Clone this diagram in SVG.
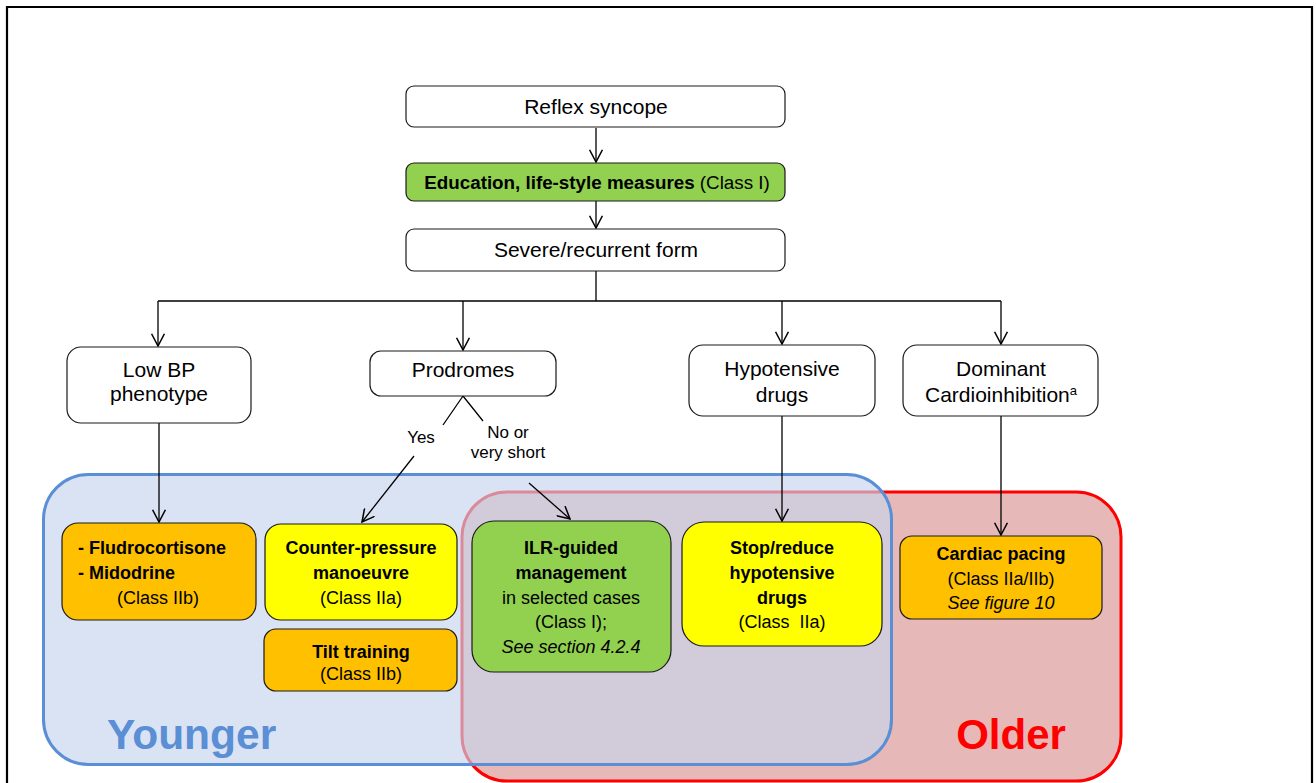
<svg xmlns="http://www.w3.org/2000/svg" width="1316" height="783" viewBox="0 0 1316 783">
  <style>
    text { font-family: "Liberation Sans", Arial, sans-serif; fill: #000; text-anchor: middle; }
    .top { font-size: 21px; }
    .lbl { font-size: 17px; }
    .b { font-weight: bold; }
    .t { font-size: 18px; }
    .i { font-style: italic; }
    .node { stroke: #1a1a1a; stroke-width: 1.2; }
    .white { fill: #ffffff; }
    .green { fill: #92D050; }
    .yellow { fill: #FFFF00; }
    .orange { fill: #FFC000; }
    .conn { stroke: #000; stroke-width: 1.3; fill: none; }
    .arrow { marker-end: url(#head); }
  </style>
  <defs>
    <marker id="head" markerUnits="userSpaceOnUse" markerWidth="14" markerHeight="14" viewBox="0 0 11 12" refX="10.5" refY="6" orient="auto">
      <path d="M0,0.5 L10.5,6 L0,11.5" fill="none" stroke="#000" stroke-width="1.3"/>
    </marker>
  </defs>

  <rect width="1316" height="783" fill="#ffffff"/>
  <!-- outer frame, open at the bottom edge -->
  <path d="M7 790 V7 H1312 V790" fill="none" stroke="#000" stroke-width="2.2"/>

  <!-- age groups -->
  <g id="group-older">
    <rect x="462" y="492" width="659" height="289" rx="45" fill="#E6B9B8" stroke="#FF0000" stroke-width="3"/>
    <text x="1011" y="749" font-size="42" font-weight="bold" style="fill:#FF0000">Older</text>
  </g>
  <g id="group-younger">
    <rect x="43.5" y="474.5" width="848" height="290" rx="45" fill="#C6D4ED" fill-opacity="0.65" stroke="#5A8ED5" stroke-width="3"/>
    <text x="107" y="749" font-size="42.5" font-weight="bold" style="fill:#5A8ED5;text-anchor:start">Younger</text>
  </g>

  <!-- connectors -->
  <g id="connectors">
    <path class="conn arrow" d="M596 128 V162"/>
    <path class="conn arrow" d="M596 201 V228"/>
    <path class="conn" d="M596 271 V301 M158 301 H1001"/>
    <path class="conn arrow" d="M158 301 V346"/>
    <path class="conn arrow" d="M463 301 V350"/>
    <path class="conn arrow" d="M782 301 V344"/>
    <path class="conn arrow" d="M1001 301 V344"/>
    <path class="conn" d="M463 396 L443 425 M463 396 L483 421"/>
    <path class="conn arrow" d="M414 456 L362 522"/>
    <path class="conn arrow" d="M529 483 L570 519"/>
    <path class="conn arrow" d="M159 423 V522"/>
    <path class="conn arrow" d="M782 416 V521"/>
    <path class="conn arrow" d="M1001 416 V535"/>
    <text class="lbl" x="421" y="443">Yes</text>
    <text class="lbl" x="508" y="438">No or</text>
    <text class="lbl" x="508" y="458">very short</text>
  </g>

  <g id="reflex-syncope">
    <rect class="node white" x="406" y="86" width="379" height="41" rx="8"/>
    <text class="top" x="596" y="114">Reflex syncope</text>
  </g>
  <g id="education">
    <rect class="node green" x="406" y="163" width="379" height="38" rx="8"/>
    <text x="597" y="189" font-size="18.8"><tspan class="b">Education, life-style measures</tspan> (Class I)</text>
  </g>
  <g id="severe-recurrent">
    <rect class="node white" x="406" y="229" width="379" height="42" rx="8"/>
    <text class="top" x="596" y="257">Severe/recurrent form</text>
  </g>

  <g id="low-bp">
    <rect class="node white" x="67" y="347" width="184" height="76" rx="14"/>
    <text class="top" x="159" y="377">Low BP</text>
    <text class="top" x="159" y="401">phenotype</text>
  </g>
  <g id="prodromes">
    <rect class="node white" x="370" y="351" width="186" height="45" rx="11"/>
    <text class="top" x="463" y="377">Prodromes</text>
  </g>
  <g id="hypotensive-drugs">
    <rect class="node white" x="689" y="345" width="186" height="71" rx="14"/>
    <text class="top" x="782" y="376">Hypotensive</text>
    <text class="top" x="782" y="402">drugs</text>
  </g>
  <g id="cardioinhibition">
    <rect class="node white" x="903" y="345" width="195" height="71" rx="14"/>
    <text class="top" x="1001" y="376">Dominant</text>
    <text class="top" x="1001" y="402">Cardioinhibition<tspan font-size="13" dy="-7">a</tspan></text>
  </g>

  <g id="fludrocortisone">
    <rect class="node orange" x="62" y="523" width="194" height="97" rx="16"/>
    <text class="t b" x="78" y="554" style="text-anchor:start">- Fludrocortisone</text>
    <text class="t b" x="78" y="579" style="text-anchor:start">- Midodrine</text>
    <text class="t" x="158" y="604">(Class IIb)</text>
  </g>
  <g id="counter-pressure">
    <rect class="node yellow" x="265" y="524" width="192" height="96" rx="16"/>
    <text class="t b" x="361" y="554">Counter-pressure</text>
    <text class="t b" x="361" y="579">manoeuvre</text>
    <text class="t" x="361" y="604">(Class IIa)</text>
  </g>
  <g id="tilt-training">
    <rect class="node orange" x="264" y="629" width="193" height="62" rx="12"/>
    <text class="t b" x="361" y="658">Tilt training</text>
    <text class="t" x="361" y="680">(Class IIb)</text>
  </g>
  <g id="ilr-guided">
    <rect class="node green" x="472" y="521" width="199" height="151" rx="22"/>
    <text class="t b" x="571" y="554">ILR-guided</text>
    <text class="t b" x="571" y="579">management</text>
    <text class="t" x="571" y="604">in selected cases</text>
    <text class="t" x="571" y="628">(Class I);</text>
    <text class="t i" x="571" y="653">See section 4.2.4</text>
  </g>
  <g id="stop-reduce">
    <rect class="node yellow" x="682" y="522" width="200" height="124" rx="22"/>
    <text class="t b" x="782" y="554">Stop/reduce</text>
    <text class="t b" x="782" y="579">hypotensive</text>
    <text class="t b" x="782" y="604">drugs</text>
    <text class="t" x="782" y="628" xml:space="preserve">(Class  IIa)</text>
  </g>
  <g id="cardiac-pacing">
    <rect class="node orange" x="900" y="536" width="202" height="83" rx="12"/>
    <text class="t b" x="1001" y="560">Cardiac pacing</text>
    <text class="t" x="1001" y="585">(Class IIa/IIb)</text>
    <text class="t i" x="1001" y="609">See figure 10</text>
  </g>
</svg>
